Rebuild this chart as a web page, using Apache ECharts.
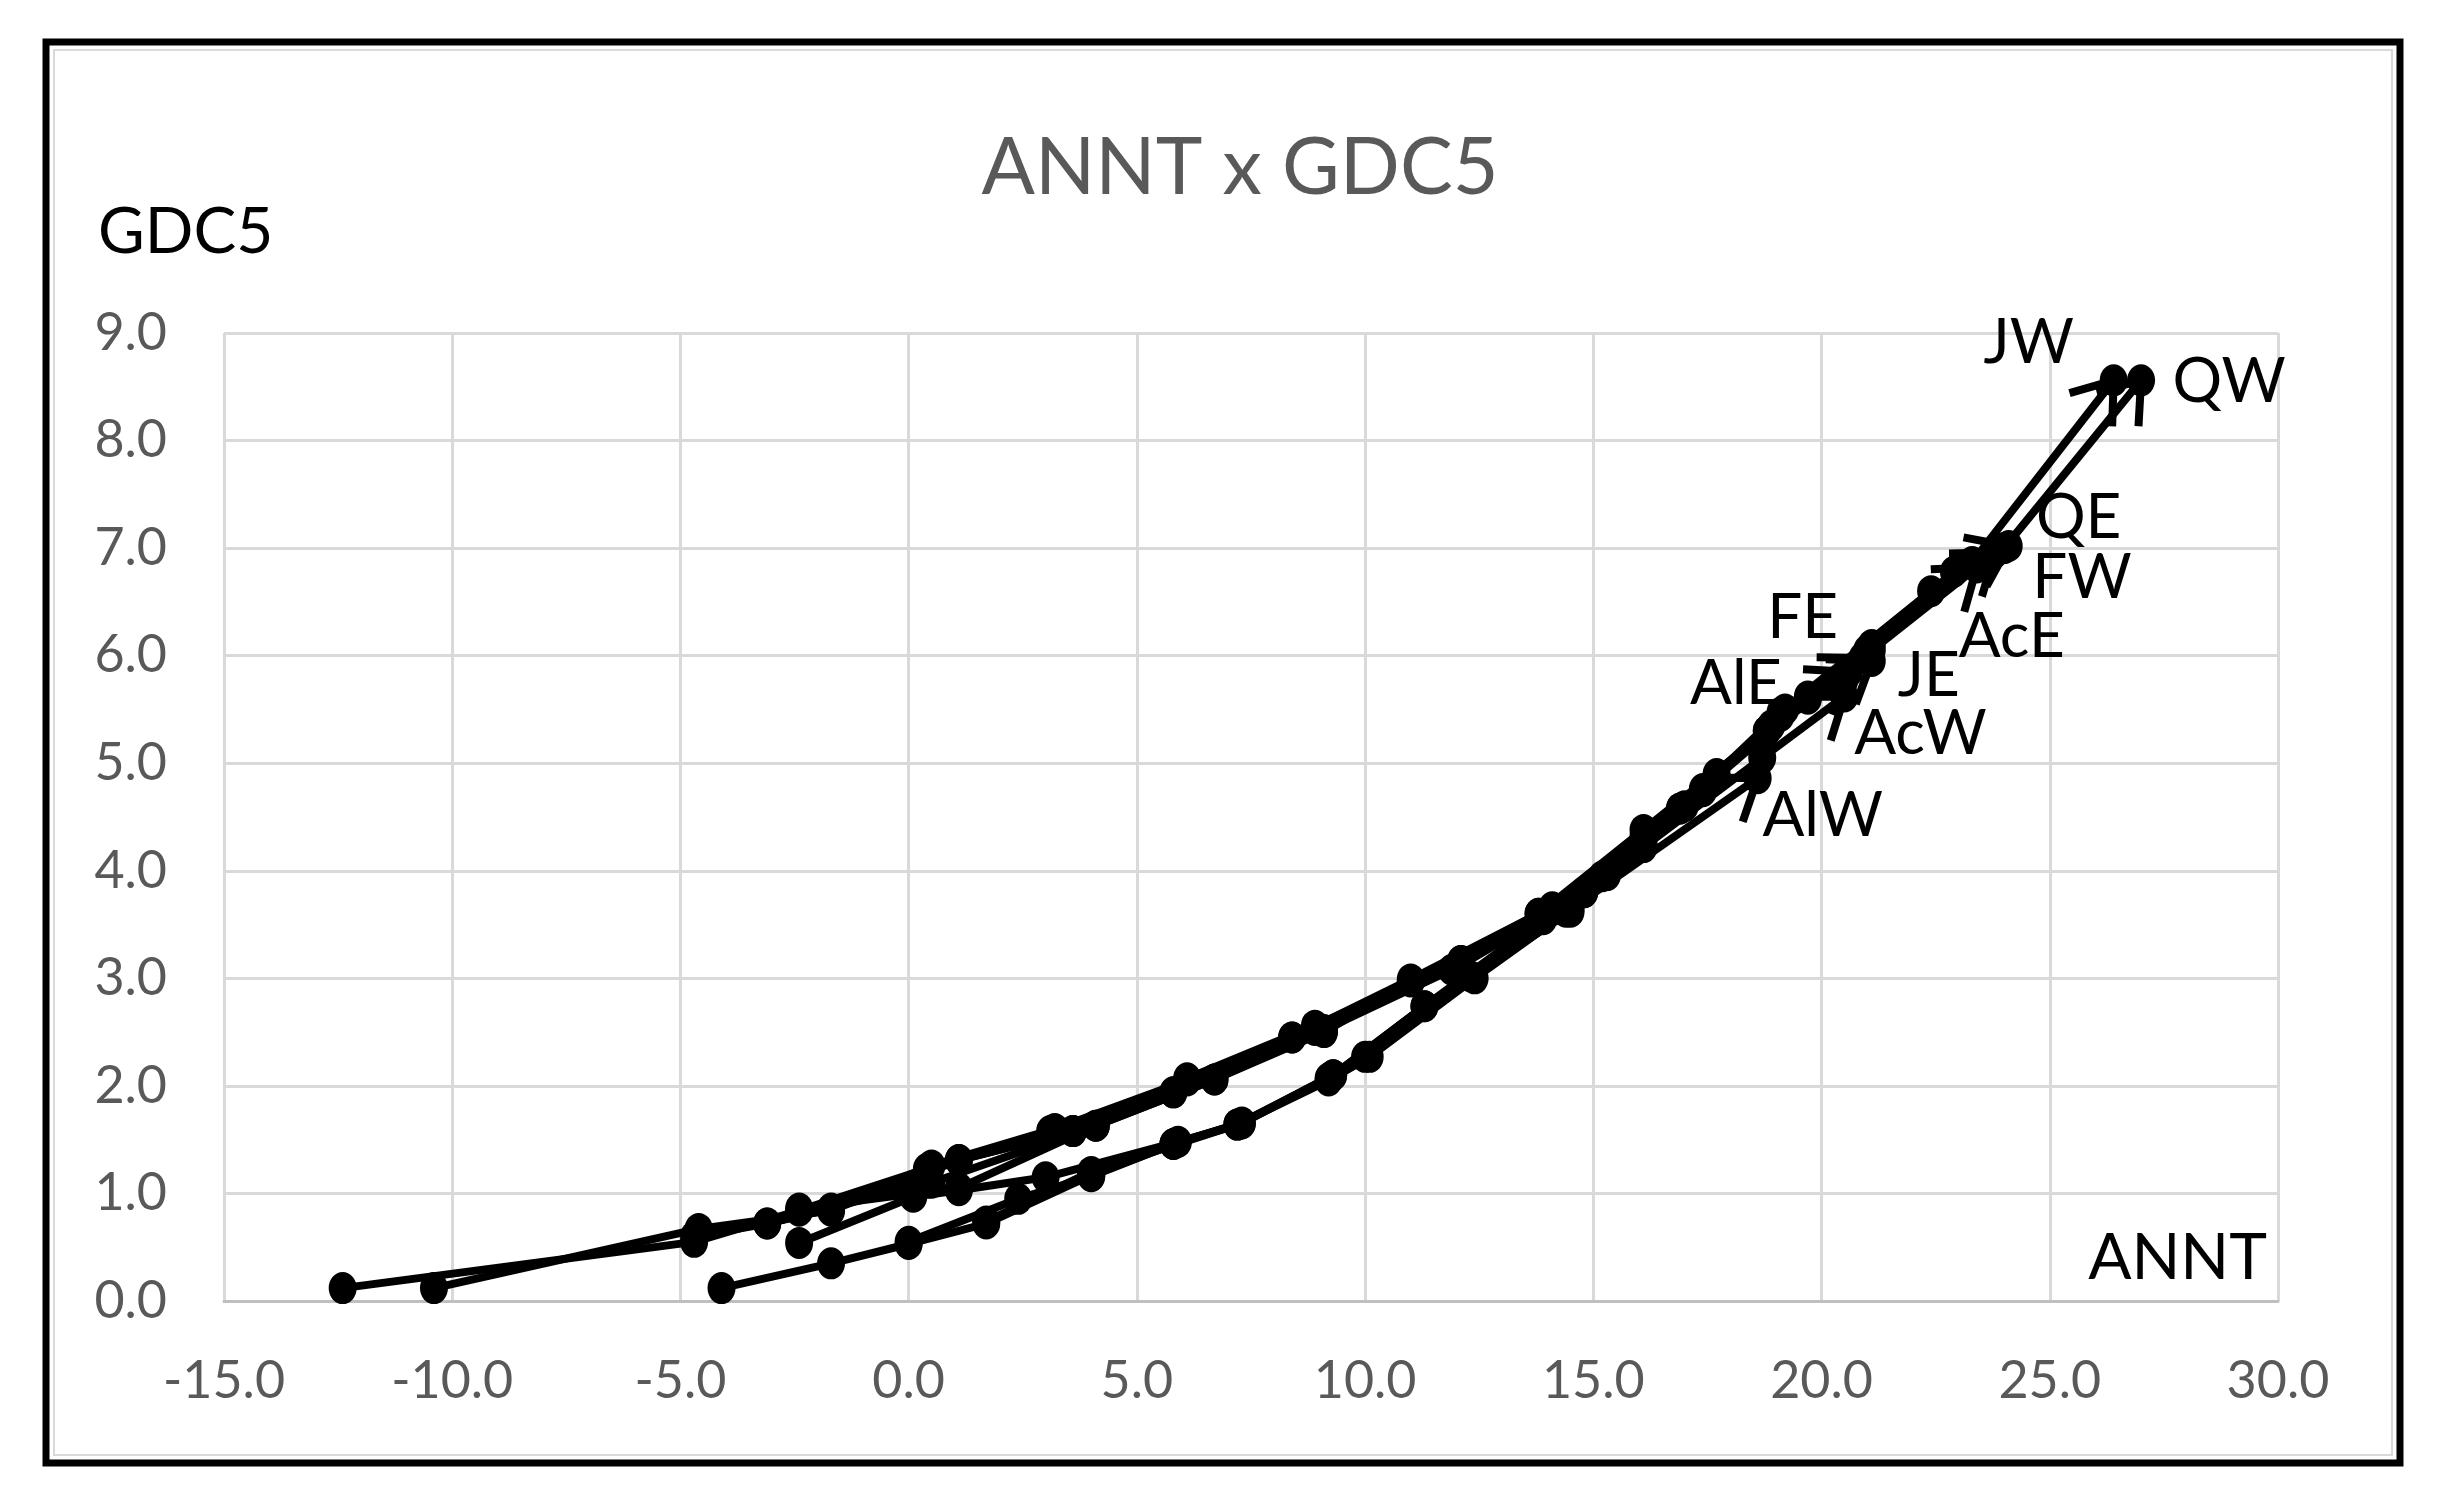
<!DOCTYPE html>
<html>
<head>
<meta charset="utf-8">
<title>ANNT x GDC5</title>
<script src="https://cdn.jsdelivr.net/npm/echarts@6/dist/echarts.min.js"></script>
<style>
  html, body { margin: 0; padding: 0; background: #fff; }
  #chart { width: 2448px; height: 1508px; }
</style>
</head>
<body>
<div id="chart"></div>
<script>
// tick labels
var xTicks = [-15, -10, -5, 0, 5, 10, 15, 20, 25, 30];
var yTicks = [0, 1, 2, 3, 4, 5, 6, 7, 8, 9];

// series names, in drawing order
var seriesNames = ['JW', 'QW', 'QE', 'FW', 'AcE', 'FE', 'AlE', 'JE', 'AcW', 'AlW'];

// [ANNT, GDC5] per series
var JW = [[-12.4, 0.12], [-4.7, 0.55], [-2.4, 0.84], [0.4, 1.23], [3.1, 1.58], [5.8, 1.94], [8.4, 2.45], [11.0, 2.99], [13.8, 3.60], [16.1, 4.38], [18.8, 5.30], [21.1, 6.10], [23.3, 6.87], [26.4, 8.56]];
var QW = [[-10.4, 0.12], [-4.6, 0.67], [-1.7, 0.84], [1.1, 1.31], [3.6, 1.58], [6.1, 2.07], [8.9, 2.56], [12.1, 3.16], [14.1, 3.64], [16.9, 4.58], [19.1, 5.47], [22.4, 6.60], [24.0, 7.00], [27.0, 8.56]];
var QE = [[-3.1, 0.72], [0.5, 1.10], [4.1, 1.63], [6.7, 2.06], [9.1, 2.52], [11.9, 3.08], [14.8, 3.80], [17.4, 4.76], [19.7, 5.60], [22.9, 6.78], [24.1, 7.02]];
var FW = [[-4.1, 0.12], [-1.7, 0.35], [0.0, 0.53], [1.7, 0.72], [4.0, 1.17], [5.8, 1.46], [7.2, 1.64], [9.2, 2.07], [10.0, 2.27], [12.3, 3.02], [14.4, 3.62], [16.1, 4.25], [18.9, 5.35], [21.0, 6.05], [23.8, 6.96]];
var AcE = [[-2.4, 0.54], [0.1, 0.97], [1.1, 1.03], [3.0, 1.15], [5.9, 1.48], [7.3, 1.65], [9.3, 2.10], [11.3, 2.74], [13.9, 3.55], [15.3, 3.96], [17.0, 4.60], [19.2, 5.50], [21.1, 6.05], [23.4, 6.82]];
var FE = [[-4.7, 0.60], [-3.1, 0.72], [-1.7, 0.86], [0.5, 1.26], [3.2, 1.60], [6.1, 2.05], [8.9, 2.52], [12.1, 3.16], [14.1, 3.66], [16.1, 4.32], [17.7, 4.90], [19.7, 5.62], [20.9, 5.98]];
var AlE = [[-2.4, 0.86], [0.1, 1.00], [1.1, 1.05], [4.1, 1.63], [6.7, 2.06], [9.1, 2.50], [11.0, 2.97], [13.8, 3.60], [15.2, 3.95], [17.4, 4.74], [19.1, 5.44], [20.6, 5.85]];
var JE = [[1.1, 1.31], [3.6, 1.58], [5.8, 1.94], [8.4, 2.45], [12.1, 3.12], [14.8, 3.80], [16.9, 4.58], [18.8, 5.30], [21.1, 5.95]];
var AcW = [[0.0, 0.55], [2.4, 0.95], [4.0, 1.16], [5.8, 1.46], [7.3, 1.66], [9.3, 2.10], [11.3, 2.74], [14.5, 3.62], [16.1, 4.22], [18.7, 5.05], [20.5, 5.62]];
var AlW = [[1.7, 0.74], [4.0, 1.20], [7.2, 1.64], [9.2, 2.05], [10.1, 2.27], [12.4, 3.00], [14.5, 3.64], [18.6, 4.86]];

var seriesData = { JW: JW, QW: QW, QE: QE, FW: FW, AcE: AcE, FE: FE, AlE: AlE, JE: JE, AcW: AcW, AlW: AlW };

// where each end label sits, relative to the last point (pixels)
var labelOffset = {
  JW: [-85, -37], QW: [88, 2], QE: [70, -28], FW: [87, 26], AcE: [35, 70],
  FE: [-60, -40], AlE: [-113, 12], JE: [57, 15], AcW: [76, 37], AlW: [65, 38]
};

var FONT = 'Lato';
var GREY = '#595959';
var LINE_W = 8;

var chart = echarts.init(document.getElementById('chart'), null, { renderer: 'canvas' });

var series = [];
seriesNames.forEach(function (name) {
  var arr = seriesData[name];
  series.push({
    name: name,
    type: 'line',
    data: arr.map(function (p, i) {
      if (i !== arr.length - 1) return p;
      return {
        value: p,
        label: {
          show: true,
          position: 'inside',
          offset: labelOffset[name],
          formatter: name,
          color: '#000',
          fontFamily: FONT,
          fontSize: 62
        }
      };
    }),
    symbol: 'circle',
    symbolSize: [28, 32],
    showAllSymbol: true,
    lineStyle: { color: '#000', width: LINE_W },
    itemStyle: { color: '#000' },
    z: 3
  });
});

// open arrow heads on the last segment of every series
var arrowRows = seriesNames.map(function (name) {
  var arr = seriesData[name];
  var a = arr[arr.length - 2], b = arr[arr.length - 1];
  return [a[0], a[1], b[0], b[1]];
});

series.push({
  type: 'custom',
  data: arrowRows,
  encode: { x: [0, 2], y: [1, 3] },
  clip: false,
  z: 4,
  renderItem: function (params, api) {
    var p0 = api.coord([api.value(0), api.value(1)]);
    var p1 = api.coord([api.value(2), api.value(3)]);
    var ang = Math.atan2(p1[1] - p0[1], p1[0] - p0[0]);
    var len = 46, half = 36 * Math.PI / 180;
    var a1 = [p1[0] - len * Math.cos(ang - half), p1[1] - len * Math.sin(ang - half)];
    var a2 = [p1[0] - len * Math.cos(ang + half), p1[1] - len * Math.sin(ang + half)];
    return {
      type: 'polyline',
      shape: { points: [a1, p1, a2] },
      style: { stroke: '#000', lineWidth: LINE_W, fill: null, lineJoin: 'miter', lineCap: 'butt' }
    };
  }
});

chart.setOption({
  animation: false,
  backgroundColor: '#fff',
  title: {
    text: 'ANNT x GDC5',
    left: 1235,
    top: 124,
    textAlign: 'center',
    textStyle: { color: GREY, fontFamily: FONT, fontSize: 79, fontWeight: 'normal' }
  },
  grid: { left: 224, right: 170, top: 333, bottom: 207 },
  xAxis: {
    type: 'value',
    min: xTicks[0],
    max: xTicks[xTicks.length - 1],
    interval: 5,
    axisLine: { show: true, onZero: false, lineStyle: { color: '#bfbfbf', width: 3 } },
    axisTick: { show: false },
    splitLine: { show: true, lineStyle: { color: '#d9d9d9', width: 3 } },
    axisLabel: {
      margin: 54,
      color: GREY,
      fontFamily: FONT,
      fontSize: 52,
      formatter: function (v) { return v.toFixed(1); }
    }
  },
  yAxis: {
    type: 'value',
    min: yTicks[0],
    max: yTicks[yTicks.length - 1],
    interval: 1,
    axisLine: { show: false },
    axisTick: { show: false },
    splitLine: { show: true, lineStyle: { color: '#d9d9d9', width: 3 } },
    axisLabel: {
      margin: 57,
      color: GREY,
      fontFamily: FONT,
      fontSize: 52,
      formatter: function (v) { return v.toFixed(1); }
    }
  },
  graphic: [
    {
      type: 'rect',
      shape: { x: 54, y: 50, width: 2338, height: 1405 },
      style: { fill: null, stroke: '#d9d9d9', lineWidth: 2 },
      z: 1
    },
    {
      type: 'rect',
      shape: { x: 46, y: 42, width: 2354, height: 1421 },
      style: { fill: null, stroke: '#000', lineWidth: 7 },
      z: 2
    },
    {
      type: 'text',
      left: 98,
      top: 200,
      style: { text: 'GDC5', fill: '#000', font: '64px Lato' }
    },
    {
      type: 'text',
      right: 181,
      top: 1226,
      style: { text: 'ANNT', fill: '#000', font: '64px Lato' }
    }
  ],
  series: series
});
</script>
</body>
</html>
